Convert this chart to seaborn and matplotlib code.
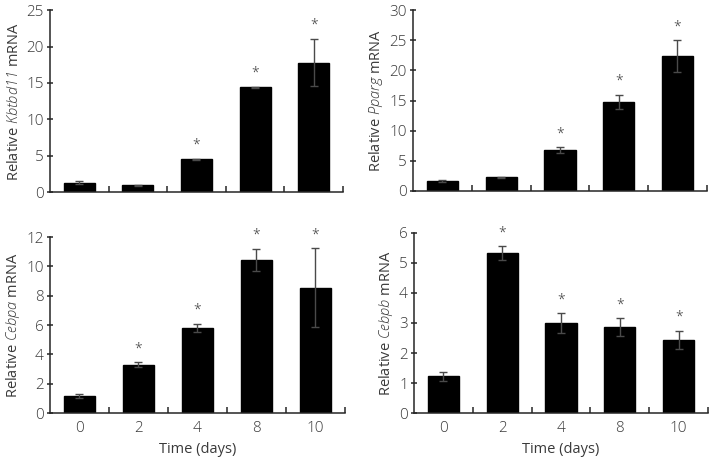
import numpy as np
import pandas as pd
import matplotlib
matplotlib.use('Agg')
import matplotlib.pyplot as plt
import seaborn as sns

days = ['0', '2', '4', '8', '10']

kbtbd11_mean = [1.25, 0.9, 4.5, 14.4, 17.8]
kbtbd11_err = [0.2, 0.05, 0.1, 0.1, 3.2]

pparg_mean = [1.65, 2.25, 6.75, 14.8, 22.4]
pparg_err = [0.1, 0.1, 0.5, 1.2, 2.6]

cebpa_mean = [1.15, 3.3, 5.8, 10.45, 8.55]
cebpa_err = [0.15, 0.18, 0.3, 0.75, 2.7]

cebpb_mean = [1.22, 5.33, 3.0, 2.86, 2.44]
cebpb_err = [0.15, 0.22, 0.32, 0.3, 0.3]

# which bars get a significance star
kbtbd11_sig = [False, False, True, True, True]
pparg_sig = [False, False, True, True, True]
cebpa_sig = [False, True, True, True, True]
cebpb_sig = [False, True, True, True, True]

sns.set_style('ticks')
plt.rcParams['font.family'] = ['Open Sans', 'DejaVu Sans']
plt.rcParams['font.weight'] = 'light'
plt.rcParams['mathtext.fontset'] = 'custom'
# gene names are fully italic, digits included
plt.rcParams['mathtext.rm'] = 'Open Sans:italic:light'
plt.rcParams['mathtext.it'] = 'Open Sans:italic:light'
text_col = '#3a3a3a'

fig = plt.figure(figsize=(7.09, 4.61), dpi=100)

panels = [
    ([0.0705, 0.5835, 0.4133, 0.3945], kbtbd11_mean, kbtbd11_err, kbtbd11_sig, 'Kbtbd11', 25, 5, False),
    ([0.5825, 0.5857, 0.4145, 0.3923], pparg_mean, pparg_err, pparg_sig, 'Pparg', 30, 5, False),
    ([0.0705, 0.1041, 0.4161, 0.3818], cebpa_mean, cebpa_err, cebpa_sig, 'Cebpa', 12, 2, True),
    ([0.5840, 0.1041, 0.4146, 0.3905], cebpb_mean, cebpb_err, cebpb_sig, 'Cebpb', 6, 1, True),
]

for rect, mean, err, sig, gene, ymax, step, bottom in panels:
    ax = fig.add_axes(rect)
    df = pd.DataFrame({'day': days, 'value': mean})
    sns.barplot(data=df, x='day', y='value', color='black', width=0.53,
                saturation=1, edgecolor='black', errorbar=None, ax=ax)
    ax.errorbar(x=np.arange(len(days)), y=mean, yerr=err, fmt='none',
                ecolor='#4a4a4a', elinewidth=1.0, capsize=3, capthick=1.0)
    for i in range(len(days)):
        if sig[i]:
            ax.text(i, mean[i] + err[i] + 0.075 * ymax, '*', ha='center',
                    va='center', fontsize=10, color=text_col)
    ax.set_xlim(-0.5, len(days) - 0.5)
    ax.set_ylim(0, ymax)
    ax.set_yticks(np.arange(0, ymax + step / 2, step))
    ax.set_xticks(np.arange(len(days)))
    ax.set_xticks(np.arange(len(days)) + 0.5, minor=True)
    ax.tick_params(axis='x', which='major', length=0, labelsize=11,
                   labelcolor=text_col, pad=6)
    ax.tick_params(axis='x', which='minor', direction='in', length=4, width=1.1)
    ax.tick_params(axis='y', direction='inout', length=5, width=1.1,
                   labelsize=11, labelcolor=text_col, pad=2)
    sns.despine(ax=ax)
    for s in ['left', 'bottom']:
        ax.spines[s].set_linewidth(1.1)
    ax.set_ylabel('Relative $' + gene + '$ mRNA', fontsize=10.5,
                  color=text_col, labelpad=3)
    if bottom:
        ax.set_xlabel('Time (days)', fontsize=10.5, color=text_col, labelpad=4)
    else:
        ax.set_xlabel('')
        ax.set_xticklabels([])

fig.savefig('out.png', dpi=100)
